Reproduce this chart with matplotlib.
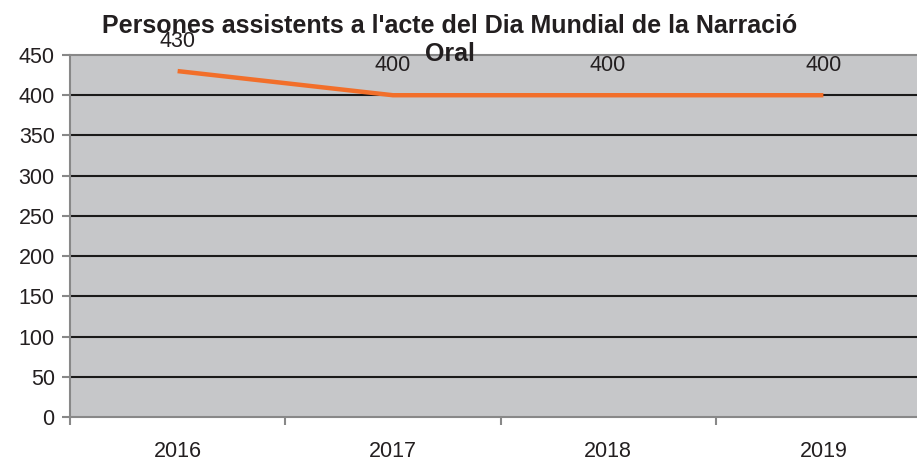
import matplotlib
matplotlib.use("Agg")
import matplotlib.pyplot as plt
import numpy as np

plt.rcParams['font.family'] = ['Liberation Sans', 'DejaVu Sans']

years = ["2016", "2017", "2018", "2019"]
persones = [430, 400, 400, 400]
yticks = [0, 50, 100, 150, 200, 250, 300, 350, 400, 450]

txt = "#231F20"
fig = plt.figure(figsize=(9.17, 4.61), dpi=100)
ax = fig.add_axes([70/917, 44/461, 861/917, 362/461])
ax.set_facecolor("#C6C7C9")

x = np.arange(len(years))
ax.plot(x, persones, color="#F26F2A", lw=3.2, solid_capstyle="butt", zorder=3)
for xi, v in zip(x, persones):
    ax.annotate(str(v), (xi, v), xytext=(0, 14), textcoords="offset points",
                ha="center", va="bottom", fontsize=15.5, color=txt)

ax.set_xlim(-0.5, 3.5)
ax.set_ylim(0, 450)
ax.set_yticks(yticks)
ax.tick_params(axis="y", labelsize=15.5, labelcolor=txt, color="#888888",
               length=6, width=1.5, direction="out", pad=5)
for y in yticks[1:-1]:
    ax.axhline(y, color="#1a1a1a", lw=1.5, zorder=1)

# category ticks sit between the years, labels in the middle
ax.set_xticks(np.arange(-0.5, 4, 1))
ax.set_xticklabels([])
ax.set_xticks(x, minor=True)
ax.set_xticklabels(years, minor=True)
ax.tick_params(axis="x", which="major", color="#888888", length=6, width=1.5, direction="out")
ax.tick_params(axis="x", which="minor", length=0, labelsize=15.5, labelcolor=txt, pad=17)

for s in ax.spines.values():
    s.set_color("#888888")
    s.set_linewidth(1.5)

fig.text(450/917, 1 - 40/461, "Persones assistents a l'acte del Dia Mundial de la Narració\nOral",
         ha="center", va="center", fontsize=18, fontweight="bold", color=txt,
         linespacing=1.25, zorder=5)

fig.savefig("out.png", dpi=100)
